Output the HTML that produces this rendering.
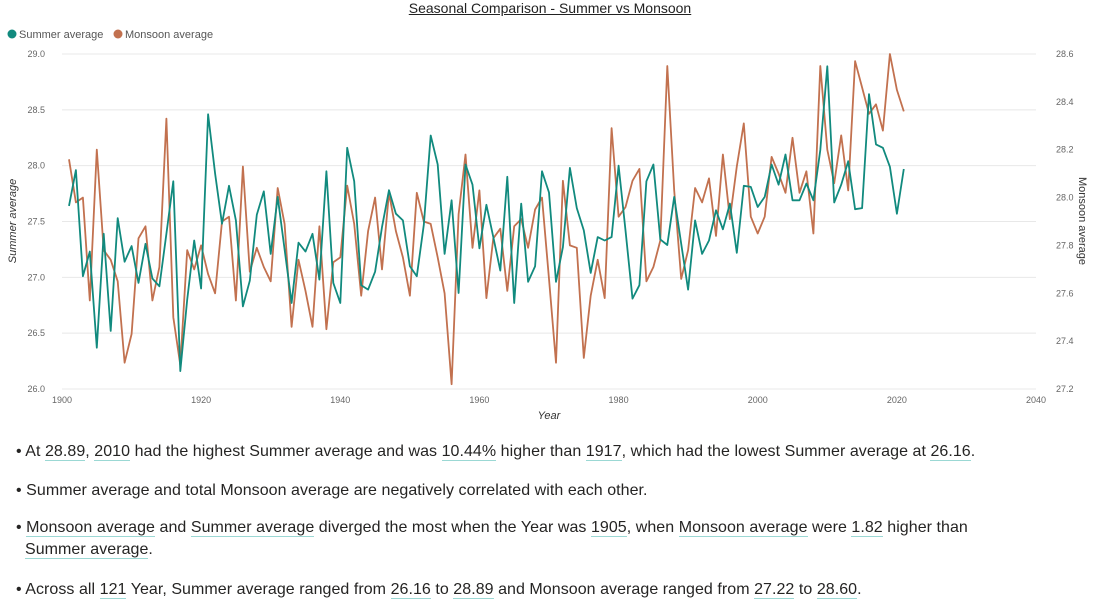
<!DOCTYPE html>
<html><head><meta charset="utf-8">
<style>
body{margin:0;width:1105px;height:608px;background:#fff;font-family:"Liberation Sans",sans-serif;overflow:hidden;position:relative}
#title{position:absolute;left:0;width:1100px;top:0;text-align:center;font-size:14px;color:#222;}
#title span{text-decoration:underline}
.ins{position:absolute;left:16px;font-size:16px;color:#252423;line-height:22px;letter-spacing:0.05px}
.u{border-bottom:1.5px solid #9bd8d4}
</style></head><body>
<div id="title"><span>Seasonal Comparison - Summer vs Monsoon</span></div>
<svg id="chart" width="1105" height="430" style="position:absolute;left:0;top:0"></svg>
<div class="ins" style="top:441px">• At <span class="u">28.89</span>, <span class="u">2010</span> had the highest Summer average  and was <span class="u">10.44%</span> higher than <span class="u">1917</span>, which had the lowest Summer average  at <span class="u">26.16</span>.</div>
<div class="ins" style="top:480px">• Summer average  and total Monsoon average  are negatively correlated with each other.</div>
<div class="ins" style="top:517px;width:1000px">• <span class="u">Monsoon average</span> and <span class="u">Summer average</span> diverged the most when the Year was <span class="u">1905</span>, when <span class="u">Monsoon average</span> were <span class="u">1.82</span> higher than<br>&nbsp;&nbsp;<span class="u">Summer average</span>.</div>
<div class="ins" style="top:579px">• Across all <span class="u">121</span> Year, Summer average  ranged from <span class="u">26.16</span> to <span class="u">28.89</span> and Monsoon average  ranged from <span class="u">27.22</span> to <span class="u">28.60</span>.</div>
<script>
const startYear = 1901;
const summer = [27.64,27.96,27.01,27.23,26.37,27.39,26.52,27.53,27.14,27.28,26.95,27.30,26.99,26.92,27.39,27.86,26.16,26.80,27.33,26.90,28.46,27.93,27.48,27.82,27.51,26.74,26.97,27.56,27.77,27.21,
27.72,27.25,26.77,27.31,27.23,27.39,26.98,27.95,26.95,26.77,28.16,27.86,26.93,26.89,27.05,27.45,27.78,27.57,27.51,27.10,27.01,27.47,28.27,28.01,27.21,27.69,26.86,28.01,27.83,27.26,
27.65,27.36,27.06,27.90,26.77,27.66,26.96,27.10,27.95,27.76,26.96,27.27,27.98,27.62,27.42,27.04,27.36,27.33,27.36,28.00,27.42,26.81,26.93,27.86,28.01,27.34,27.29,27.72,27.30,26.89,
27.51,27.21,27.33,27.60,27.43,27.66,27.22,27.82,27.81,27.63,27.72,28.01,27.83,28.10,27.69,27.69,27.84,27.69,28.14,28.89,27.67,27.83,28.04,27.61,27.62,28.64,28.19,28.16,27.99,27.57,27.97];
const monsoon = [28.16,27.98,28.00,27.57,28.20,27.78,27.74,27.65,27.31,27.43,27.83,27.88,27.57,27.71,28.33,27.50,27.30,27.78,27.70,27.80,27.68,27.60,27.90,27.92,27.57,28.13,27.69,27.79,27.71,27.65,
28.04,27.89,27.46,27.74,27.61,27.46,27.88,27.45,27.73,27.75,28.05,27.89,27.59,27.86,28.00,27.70,28.02,27.86,27.75,27.59,28.02,27.90,27.89,27.75,27.60,27.22,27.93,28.18,27.79,28.03,
27.58,27.83,27.87,27.61,27.88,27.91,27.79,27.95,28.00,27.66,27.31,28.07,27.80,27.79,27.33,27.59,27.74,27.58,28.29,27.92,27.96,28.07,28.12,27.65,27.71,27.82,28.55,28.03,27.66,27.78,
28.04,27.98,28.08,27.84,28.18,27.91,28.13,28.31,27.92,27.85,27.92,28.17,28.10,28.02,28.25,28.02,28.11,27.85,28.55,28.20,28.06,28.26,28.03,28.57,28.46,28.35,28.39,28.28,28.60,28.45,28.36];
const xTicks = [1900,1920,1940,1960,1980,2000,2020,2040];
const leftTicks = [26.0,26.5,27.0,27.5,28.0,28.5,29.0];
const rightTicks = [27.2,27.4,27.6,27.8,28.0,28.2,28.4,28.6];

const NS='http://www.w3.org/2000/svg';
const svg=document.getElementById('chart');
const X0=62,X1=1036,YT=54,YB=389;
const x=v=>X0+(v-1900)/(2040-1900)*(X1-X0);
const yL=v=>YB-(v-26)/(29-26)*(YB-YT);
const yR=v=>YB-(v-27.2)/(28.6-27.2)*(YB-YT);
function mk(t,a,p){const e=document.createElementNS(NS,t);for(const k in a)e.setAttribute(k,a[k]);(p||svg).appendChild(e);return e;}
function txt(s,a){const e=mk('text',a);e.textContent=s;return e;}
leftTicks.forEach(v=>{
  const l=mk('line',{x1:X0,x2:X1,y1:yL(v),y2:yL(v),stroke:'#e8e8e8','stroke-width':1});
  
  
  const t=txt(v.toFixed(1),{x:45,y:yL(v)+3,'text-anchor':'end','font-size':9,fill:'#666'});
  
  
});
rightTicks.forEach(v=>{
  const t=txt(v.toFixed(1),{x:1056,y:yR(v)+3,'font-size':9,fill:'#666'});
  
  
});
xTicks.forEach(v=>{
  const t=txt(String(v),{x:x(v),y:403,'text-anchor':'middle','font-size':9,fill:'#666'});
  
  
});
let t=txt('Year',{x:549,y:419,'text-anchor':'middle','font-size':11,'font-style':'italic',fill:'#333'});


t=txt('Summer average',{x:0,y:0,transform:'translate(16,221) rotate(-90)','text-anchor':'middle','font-size':11,'font-style':'italic',fill:'#333'});


t=txt('Monsoon average',{x:0,y:0,transform:'translate(1079,221) rotate(90)','text-anchor':'middle','font-size':11,fill:'#333'});


let c=mk('circle',{cx:12,cy:34,r:4.5,fill:'#118a7e'});


t=txt('Summer average',{x:19,y:38,'font-size':11,fill:'#555'});


c=mk('circle',{cx:118,cy:34,r:4.5,fill:'#c2714f'});


t=txt('Monsoon average',{x:125,y:38,'font-size':11,fill:'#555'});


const pm=monsoon.map((v,i)=>x(startYear+i).toFixed(1)+','+yR(v).toFixed(1)).join(' ');
const ps=summer.map((v,i)=>x(startYear+i).toFixed(1)+','+yL(v).toFixed(1)).join(' ');
let p=mk('polyline',{points:pm,fill:'none',stroke:'#c2714f','stroke-width':1.8,'stroke-linejoin':'round'});


p=mk('polyline',{points:ps,fill:'none',stroke:'#118a7e','stroke-width':1.8,'stroke-linejoin':'round'});


</script>
</body></html>
